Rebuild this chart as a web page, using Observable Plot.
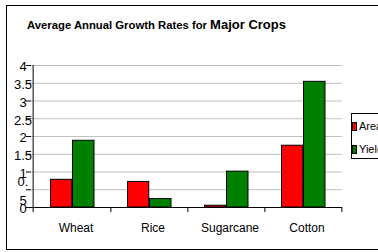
<!DOCTYPE html>
<html>
<head>
<meta charset="utf-8">
<script src="https://cdn.jsdelivr.net/npm/d3@7"></script>
<script src="https://cdn.jsdelivr.net/npm/@observablehq/plot@0.6"></script>
<style>
  html, body { margin: 0; padding: 0; background: #fff; }
  body { width: 378px; height: 252px; overflow: hidden; position: relative; font-family: "Liberation Sans", Arial, sans-serif; }
  #border { position: absolute; left: 6px; top: 5px; width: 420px; height: 245px; border: 1px solid #000; box-sizing: border-box; }
  #title { position: absolute; left: 27px; top: 15px; font-weight: bold; color: #000; white-space: nowrap; }
  #title .t1 { font-size: 11.3px; }
  #title .t2 { font-size: 13px; }
  #chart { position: absolute; left: 0; top: 0; }
  #legend { position: absolute; left: 351px; top: 113px; width: 60px; height: 46px; border: 1px solid #000; background: #fff; box-sizing: border-box; font-size: 11px; color: #000; }
  .item { position: absolute; left: 0; white-space: nowrap; }
  .sw { position: absolute; left: 0; width: 5px; height: 9px; border: 1px solid #000; box-sizing: border-box; }
  .lab { position: absolute; left: 7px; }
</style>
</head>
<body>
<div id="border"></div>
<div id="chart"></div>
<div id="title"></div>
<div id="legend"></div>
<script>
const crops = ["Wheat", "Rice", "Sugarcane", "Cotton"];
const areaGrowth = [0.78, 0.72, 0.05, 1.74];
const yieldGrowth = [1.88, 0.24, 1.01, 3.54];
const seriesNames = ["Area", "Yield"];
const seriesColors = ["#ff0000", "#008000"];
const yTicks = [0, 0.5, 1, 1.5, 2, 2.5, 3, 3.5, 4];
const yTickLabels = ["0", "0.\n5", "1", "1.5", "2", "2.5", "3", "3.5", "4"];
const titleMain = "Average Annual Growth Rates for ";
const titleEnd = "Major Crops";

const W = 378, H = 252;
const mL = 31, mR = 36, mT = 65, mB = 45;
const bw = (W - mL - mR) / crops.length;

const chart = Plot.plot({
  width: W,
  height: H,
  marginLeft: mL,
  marginRight: mR,
  marginTop: mT,
  marginBottom: mB,
  style: { fontFamily: "'Liberation Sans', Arial, sans-serif", color: "#000", background: "transparent", overflow: "visible" },
  x: { domain: crops, padding: 0, axis: null },
  y: { domain: [0, 4], axis: null },
  marks: [
    Plot.gridY(yTicks, { stroke: "#c0c0c0", strokeOpacity: 1 }),
    Plot.barY(crops, { x: crops, y: areaGrowth, fill: seriesColors[0], stroke: "#000", strokeWidth: 1, insetLeft: 17.5, insetRight: bw - 39.5 }),
    Plot.barY(crops, { x: crops, y: yieldGrowth, fill: seriesColors[1], stroke: "#000", strokeWidth: 1, insetLeft: 39.5, insetRight: 16 }),
    Plot.ruleY([0], { stroke: "#000" }),
    Plot.ruleX([crops[0]], { x: d => d, dx: -bw / 2, insetBottom: -5, stroke: "#000" }),
    Plot.axisY({ ticks: yTicks, tickFormat: d => yTickLabels[yTicks.indexOf(d)], tickSize: 5, tickPadding: 3.5, textAnchor: "middle", fontSize: 13, lineHeight: 1.4, stroke: "#000" }),
    Plot.axisX({ ticks: crops, tickSize: 5, tickFormat: () => "", dx: bw / 2, stroke: "#000" }),
    Plot.axisX({ ticks: crops, tickSize: 0, tickPadding: 16, dx: 4, fontSize: 12 })
  ]
});
document.getElementById("chart").appendChild(chart);

const t = document.getElementById("title");
const s1 = document.createElement("span"); s1.className = "t1"; s1.textContent = titleMain;
const s2 = document.createElement("span"); s2.className = "t2"; s2.textContent = titleEnd;
t.appendChild(s1); t.appendChild(s2);

const lg = document.getElementById("legend");
seriesNames.forEach((name, i) => {
  const item = document.createElement("div");
  item.className = "item";
  item.style.top = (i === 0 ? 6 : 29) + "px";
  const sw = document.createElement("div");
  sw.className = "sw";
  sw.style.background = seriesColors[i];
  sw.style.top = "2px";
  const lab = document.createElement("div");
  lab.className = "lab";
  lab.textContent = name;
  item.appendChild(sw); item.appendChild(lab);
  lg.appendChild(item);
});
</script>
</body>
</html>
